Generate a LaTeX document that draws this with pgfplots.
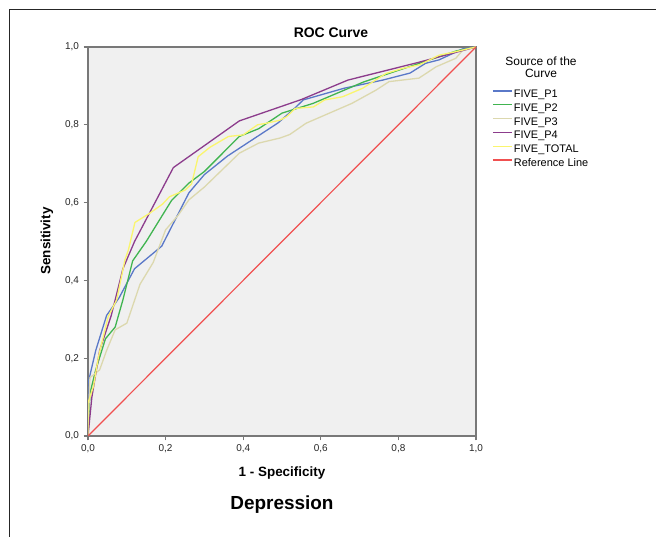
\documentclass[border=0pt]{standalone}
\usepackage{pgfplots}
\pgfplotsset{compat=1.18}
\usepackage{fontspec}
\setmainfont{Liberation Sans}
\definecolor{cblue}{RGB}{90,120,200}
\definecolor{cgreen}{RGB}{64,180,80}
\definecolor{cbeige}{RGB}{220,216,174}
\definecolor{cpurple}{RGB}{140,60,140}
\definecolor{cyellow}{RGB}{250,245,110}
\definecolor{cred}{RGB}{240,80,80}
\definecolor{axgray}{RGB}{120,120,120}
\definecolor{bggray}{RGB}{240,240,240}
\begin{document}
\begin{tikzpicture}
\path[use as bounding box] (0,0) rectangle (656bp,537bp);
\draw[black!85, line width=0.9bp] (9bp,0bp) -- (9bp,528bp) -- (656bp,528bp);
\begin{axis}[
  at={(88bp,101bp)}, anchor=south west,
  scale only axis, width=388bp, height=389bp,
  xmin=0, xmax=1, ymin=0, ymax=1, enlargelimits=false,
  axis background/.style={fill=bggray},
  axis line style={axgray, line width=1.6bp},
  xtick={0,0.2,0.4,0.6,0.8,1}, ytick={0,0.2,0.4,0.6,0.8,1},
  tick align=outside, tick pos=left,
  major tick length=4.5bp,
  tick style={axgray, line width=1.2bp},
  /pgf/number format/assume math mode=true,
  xticklabel={\pgfmathprintnumber[fixed,fixed zerofill,precision=1,use comma]{\tick}},
  yticklabel={\pgfmathprintnumber[fixed,fixed zerofill,precision=1,use comma]{\tick}},
  tick label style={font=\fontsize{10}{12}\selectfont, text=black!85},
  xticklabel style={yshift=-1bp},
  yticklabel style={xshift=-1bp},
  legend style={at={(1.041,0.895)}, anchor=north west, draw=none, fill=none,
    inner sep=0pt, row sep=0.3bp, font=\fontsize{11}{13}\selectfont,
    nodes={inner sep=1.5bp, text height=8bp, text depth=2.5bp}},
  legend cell align=left,
  legend image code/.code={\draw[#1] (0bp,3.8bp) -- (19bp,3.8bp);},
  every axis plot/.append style={line width=1.3bp, line join=round},
]
\addplot[cblue] coordinates {(0,0)(0,0.135)(0.02,0.22)(0.048,0.31)(0.08,0.355)(0.12,0.43)(0.19,0.488)(0.26,0.625)(0.30,0.672)(0.36,0.72)(0.49,0.805)(0.53,0.84)(0.555,0.864)(0.66,0.894)(0.76,0.915)(0.83,0.933)(0.87,0.958)(0.905,0.967)(0.965,0.995)(1,1)};
\addlegendentry{FIVE\_P1}
\addplot[cgreen] coordinates {(0,0)(0.005,0.11)(0.02,0.17)(0.045,0.25)(0.07,0.28)(0.09,0.35)(0.115,0.45)(0.15,0.50)(0.215,0.605)(0.26,0.65)(0.30,0.68)(0.39,0.77)(0.44,0.79)(0.50,0.83)(0.58,0.855)(0.71,0.91)(0.83,0.95)(0.95,0.99)(1,1)};
\addlegendentry{FIVE\_P2}
\addplot[cbeige] coordinates {(0,0)(0.005,0.15)(0.03,0.17)(0.048,0.22)(0.07,0.273)(0.1,0.29)(0.134,0.39)(0.168,0.446)(0.2,0.53)(0.232,0.567)(0.26,0.607)(0.30,0.64)(0.39,0.727)(0.44,0.753)(0.495,0.766)(0.52,0.775)(0.562,0.804)(0.68,0.855)(0.742,0.889)(0.776,0.911)(0.853,0.92)(0.897,0.949)(0.948,0.971)(0.966,0.992)(1,1)};
\addlegendentry{FIVE\_P3}
\addplot[cpurple] coordinates {(0,0)(0.005,0.05)(0.01,0.10)(0.03,0.22)(0.06,0.31)(0.09,0.43)(0.12,0.5)(0.22,0.69)(0.39,0.81)(0.55,0.865)(0.67,0.915)(0.85,0.96)(1,1)};
\addlegendentry{FIVE\_P4}
\addplot[cyellow] coordinates {(0,0)(0,0.085)(0.014,0.127)(0.027,0.204)(0.052,0.307)(0.074,0.35)(0.095,0.452)(0.104,0.478)(0.121,0.549)(0.158,0.572)(0.192,0.596)(0.21,0.615)(0.25,0.632)(0.267,0.648)(0.284,0.718)(0.314,0.742)(0.362,0.77)(0.40,0.774)(0.437,0.8)(0.46,0.804)(0.495,0.812)(0.512,0.821)(0.534,0.842)(0.581,0.846)(0.61,0.864)(0.656,0.872)(0.708,0.894)(0.768,0.932)(0.811,0.945)(0.854,0.954)(0.905,0.979)(0.948,0.988)(1,1)};
\addlegendentry{FIVE\_TOTAL}
\addplot[cred, line width=1.2bp] coordinates {(0,0)(1,1)};
\addlegendentry{Reference Line}
\end{axis}
\node[font=\bfseries\fontsize{14}{16}\selectfont] at (331bp,504bp) {ROC Curve};
\node[font=\bfseries\fontsize{13.5}{16}\selectfont] at (282bp,64bp) {1 - Specificity};
\node[font=\bfseries\fontsize{19}{22}\selectfont] at (282bp,32bp) {Depression};
\node[font=\bfseries\fontsize{13.5}{16}\selectfont, rotate=90] at (47bp,296bp) {Sensitivity};
\node[font=\fontsize{12}{14}\selectfont, align=center] at (541bp,470bp) {Source of the\\[-1.5bp]Curve};
\end{tikzpicture}
\end{document}
